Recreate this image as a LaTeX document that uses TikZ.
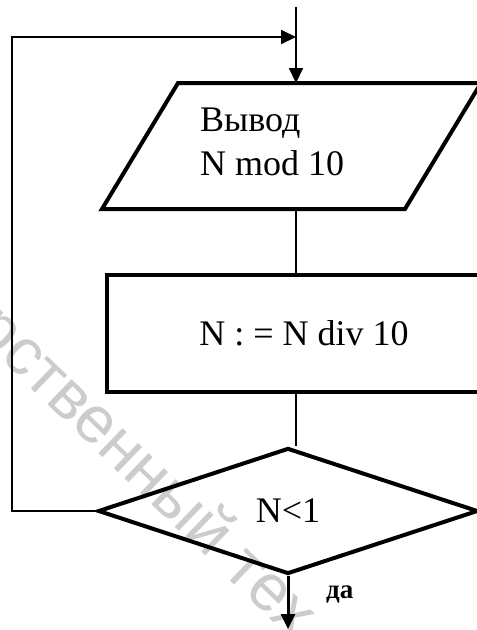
\documentclass[tikz,border=0pt]{standalone}
\usepackage{fontspec}
\setmainfont{Liberation Serif}
\newfontfamily\wmfont{Liberation Sans}
\usetikzlibrary{arrows.meta,shapes.geometric}
\definecolor{wmgray}{RGB}{204,204,204}
\begin{document}
\begin{tikzpicture}[x=1pt,y=-1pt,
  shapeline/.style={line width=4pt, line join=miter},
  link/.style={line width=1.6pt},
  flow/.style={line width=2pt, line join=miter},
  tip/.style={-{Triangle[length=15pt,width=14pt]}},
  lbl/.style={font=\fontsize{36}{44}\selectfont, inner sep=0pt},
  wmark/.style={font=\wmfont\fontsize{66}{70}\selectfont, text=wmgray,
    rotate=-44, anchor=base west, inner sep=0pt},
]
\useasboundingbox (0,0) rectangle (477,630);
\clip (0,0) rectangle (477,630);

% background stamp
\node[wmark] (wm) at (-1,357) {\llap{р}ственный тех};

% helper points
\coordinate (entry) at (296,7);
\coordinate (join) at (296,37);
\coordinate (loopx) at (12,0);
\coordinate (bottom) at (0,629);
\coordinate (pin) at (296,83);
\coordinate (pout) at (296,209);

% output block
\draw[shapeline] (102,209) -- (178,83) -- (481,83) -- (405,209) -- cycle;
\node[lbl, anchor=base west] (out1) at (200,131) {Вывод};
\node[lbl, anchor=base west] (out2) at (200,175) {N mod 10};

% process block
\node[draw, shapeline, rectangle, minimum width=394pt, minimum height=117pt,
  inner sep=0pt, font=\fontsize{36}{44}\selectfont] (calc) at (304,333.5) {N : = N div 10};

% decision
\node[draw, shapeline, diamond, minimum width=380pt, minimum height=126pt,
  inner sep=0pt, font=\fontsize{36}{44}\selectfont] (test) at (288,511) {N<1};

% connectors
\draw[flow, tip] (entry) -- (pin);
\draw[link] (pout) -- (pout |- calc.north);
\draw[link] (calc.south -| pout) -- (pout |- test.north);
\draw[flow, tip] (test.west) -- (test.west -| loopx) |- (join);
\draw[line width=3pt, tip] (test.south) -- (test.south |- bottom);

\node[font=\bfseries\fontsize{27}{30}\selectfont, anchor=base west, inner sep=0pt] (yes) at (326,598) {да};
\end{tikzpicture}
\end{document}
